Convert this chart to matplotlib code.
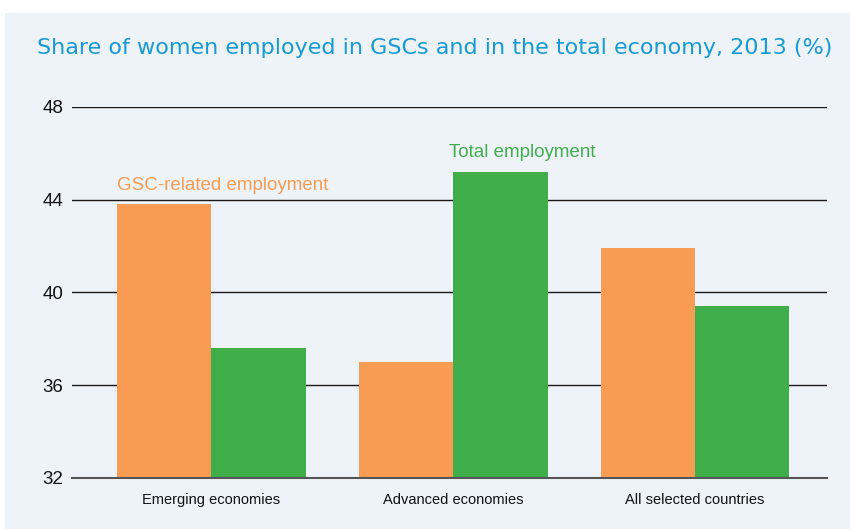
import numpy as np
import matplotlib.pyplot as plt

categories = ["Emerging economies", "Advanced economies", "All selected countries"]
gsc_related = [43.8, 37.0, 41.9]
total_employment = [37.6, 45.2, 39.4]
yticks = [32, 36, 40, 44, 48]

orange = "#F79C52"
green = "#3FAE4A"
bg = "#EEF3FA"
narrow = ["Liberation Sans", "DejaVu Sans"]

fig = plt.figure(figsize=(8.5, 5.29), dpi=100)
fig.patch.set_facecolor("white")

# light blue panel behind everything
bgax = fig.add_axes([5 / 850, 0, 845 / 850, 1 - 13 / 529], zorder=0)
bgax.set_facecolor(bg)
bgax.set_xticks([])
bgax.set_yticks([])
for s in bgax.spines.values():
    s.set_visible(False)

ax = fig.add_axes([72 / 850, 1 - 478 / 529, 755 / 850, 371 / 529], zorder=1)
ax.set_facecolor("none")

x = np.arange(len(categories))
w = 0.39
ax.bar(x - w / 2, [v - 32 for v in gsc_related], w, bottom=32, color=orange, zorder=3)
ax.bar(x + w / 2, [v - 32 for v in total_employment], w, bottom=32, color=green, zorder=3)

ax.set_xlim(-0.575, 2.545)
ax.set_ylim(32, 48)
ax.set_yticks(yticks)
ax.set_yticklabels([str(t) for t in yticks], family=narrow, fontsize=13.5, color="#111111")
ax.yaxis.grid(True, color="#1a1a1a", linewidth=1.0, zorder=1)
ax.set_axisbelow(True)
ax.set_xticks(x)
ax.set_xticklabels(categories, family=narrow, fontsize=10.5, color="#111111")
ax.tick_params(axis="x", length=0, pad=11)
ax.tick_params(axis="y", length=0, pad=6)
for s in ["top", "right", "left"]:
    ax.spines[s].set_visible(False)
ax.spines["bottom"].set_color("#555555")
ax.spines["bottom"].set_linewidth(1.5)
ax.spines["bottom"].set_zorder(4)

ax.text(-0.389, 44.4, "GSC-related employment", color=orange, family=narrow, fontsize=13.5,
        ha="left", va="baseline")
ax.text(0.983, 45.85, "Total employment", color=green, family=narrow, fontsize=13.5,
        ha="left", va="baseline")

fig.text(37 / 850, 1 - 48 / 529, "Share of women employed in GSCs and in the total economy, 2013 (%)",
         color="#169AD6", fontsize=16, ha="left", va="center", zorder=2)

fig.savefig("out.png", dpi=100)
